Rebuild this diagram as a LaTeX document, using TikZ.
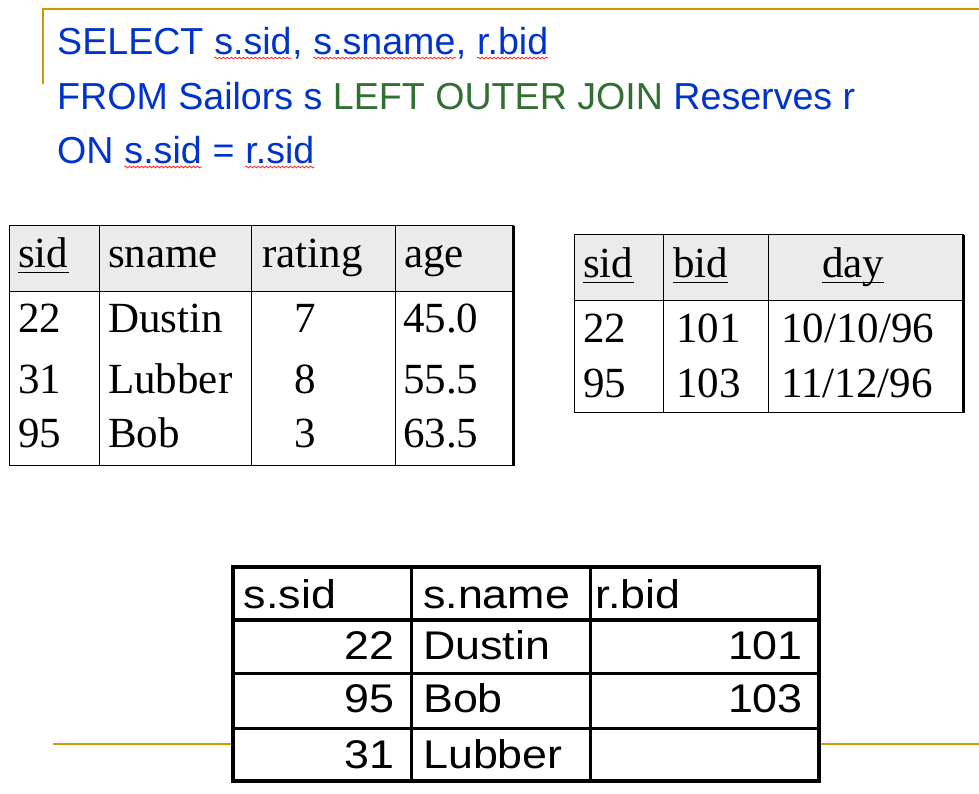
\documentclass[tikz,border=0pt]{standalone}
\usepackage{fontspec}
\setmainfont{Liberation Serif}
\newfontfamily\arialfont{Liberation Sans}
\newfontfamily\widearialfont[FakeStretch=1.12]{Liberation Sans}
\usetikzlibrary{positioning,decorations.pathmorphing}

\definecolor{sqlblue}{RGB}{0,51,204}
\definecolor{sqlgreen}{RGB}{51,110,51}
\definecolor{rulegold}{RGB}{204,153,0}
\definecolor{hdrgray}{RGB}{235,235,235}

\tikzset{
  sql/.style={inner sep=0pt, anchor=base west, text=sqlblue, font=\arialfont\fontsize{37.6}{45}\selectfont},
  cell/.style={inner sep=0pt, anchor=base west, font=\fontsize{43}{50}\selectfont},
  rcell/.style={inner sep=0pt, anchor=base west, font=\widearialfont\fontsize{40}{48}\selectfont},
  spell/.style={red!85, line width=0.8pt, decorate, decoration={snake, amplitude=0.8pt, segment length=4pt}},
  tbl/.style={line width=1pt},
  res/.style={line width=3.5pt},
  goldrule/.style={rulegold, line width=2pt},
}

\begin{document}
\begin{tikzpicture}[x=1pt, y=-1pt]
  \useasboundingbox (0,0) rectangle (979,794);

  % Gold rules
  \draw[goldrule] (43,84) |- (979,9.2);
  \draw[goldrule] (53,743.7) -- (979,743.7);

  % Query
  \node[sql] (sel) at (57,55) {SELECT};
  \node[sql, right=10.45pt of sel.base east, anchor=base west] (ssid) {s.sid};
  \node[sql, right=0pt of ssid.base east, anchor=base west] (comma1) {,};
  \node[sql, right=10.45pt of comma1.base east, anchor=base west] (ssname) {s.sname};
  \node[sql, right=0pt of ssname.base east, anchor=base west] (comma2) {,};
  \node[sql, right=10.45pt of comma2.base east, anchor=base west] (rbid) {r.bid};
  \node[sql] (from) at (57,110) {FROM Sailors s \textcolor{sqlgreen}{LEFT OUTER JOIN} Reserves r};
  \node[sql] (on) at (57,164) {ON};
  \node[sql, right=10.45pt of on.base east, anchor=base west] (ssid2) {s.sid};
  \node[sql, right=10.45pt of ssid2.base east, anchor=base west] (eq) {=};
  \node[sql, right=10.45pt of eq.base east, anchor=base west] (rsid) {r.sid};
  \foreach \w in {ssid,ssname,rbid,ssid2,rsid}
    \draw[spell] ([yshift=-3pt]\w.base west) -- ([yshift=-3pt]\w.base east);

  % Sailors
  \fill[hdrgray] (9,226) rectangle (513,291);
  \draw[tbl] (9,226) rectangle (513,465);
  \draw[tbl] (9,291) -- (513,291);
  \foreach \x in {99,251,395}
    \draw[tbl] (\x,226) -- (\x,465);
  \draw[line width=3pt] (513.3,226) -- (513.3,465.5);
  \node[cell] (sh1) at (18,267) {sid};
  \node[cell] (sh2) at (108,267) {sname};
  \node[cell] (sh3) at (262,267) {rating};
  \node[cell] (sh4) at (404,267) {age};
  \draw[line width=1.6pt] ([yshift=-5.5pt]sh1.base west) -- ([yshift=-5.5pt]sh1.base east);
  \foreach \y/\a/\b/\c/\d [count=\i] in {332/22/Dustin/7/45.0, 393/31/Lubber/8/55.5, 447/95/Bob/3/63.5} {
    \node[cell] (sa\i) at (18,\y) {\a};
    \node[cell] (sb\i) at (108,\y) {\b};
    \node[cell, anchor=base] (sc\i) at (305,\y) {\c};
    \node[cell] (sd\i) at (403,\y) {\d};
  }

  % Reserves
  \fill[hdrgray] (574,235) rectangle (963,300);
  \draw[tbl] (574,235) rectangle (963,412.5);
  \draw[tbl] (574,300) -- (963,300);
  \foreach \x in {663,768}
    \draw[tbl] (\x,235) -- (\x,412.5);
  \draw[line width=3pt] (963.3,235) -- (963.3,413);
  \node[cell] (rh1) at (583,277) {sid};
  \node[cell] (rh2) at (673,277) {bid};
  \node[cell] (rh3) at (822,277) {day};
  \foreach \h in {rh1,rh2,rh3}
    \draw[line width=1.6pt] ([yshift=-5.5pt]\h.base west) -- ([yshift=-5.5pt]\h.base east);
  \foreach \y/\a/\b/\c [count=\i] in {342/22/101/{10/10/96}, 397/95/103/{11/12/96}} {
    \node[cell] (ra\i) at (583,\y) {\a};
    \node[cell] (rb\i) at (676,\y) {\b};
    \node[cell] (rc\i) at (781,\y) {\c};
  }

  % Result
  \fill[white] (233,567) rectangle (819,781);
  \draw[res] (233,567) rectangle (819,781);
  \foreach \x in {411.7,590.5}
    \draw[res] (\x,567) -- (\x,781);
  \foreach \y in {620,673.3,728.3}
    \draw[res] (233,\y) -- (819,\y);
  \node[rcell] (qh1) at (243.7,608) {s.sid};
  \node[rcell] (qh2) at (423,608) {s.name};
  \node[rcell] (qh3) at (595.5,608) {r.bid};
  \node[rcell, anchor=base east] (qa1) at (395,659) {22};
  \node[rcell] (qb1) at (423,659) {Dustin};
  \node[rcell, anchor=base east] (qc1) at (803,659) {101};
  \node[rcell, anchor=base east] (qa2) at (395,712) {95};
  \node[rcell] (qb2) at (423,712) {Bob};
  \node[rcell, anchor=base east] (qc2) at (803,712) {103};
  \node[rcell, anchor=base east] (qa3) at (395,768) {31};
  \node[rcell] (qb3) at (423,768) {Lubber};
\end{tikzpicture}
\end{document}
